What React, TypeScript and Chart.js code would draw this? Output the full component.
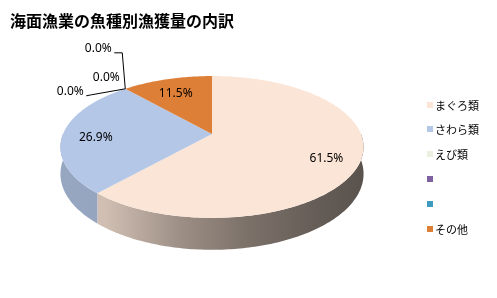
import React, { useEffect, useRef } from "react";
import { Chart, registerables } from "chart.js";

Chart.register(...registerables);

const TITLE = "海面漁業の魚種別漁獲量の内訳";
const categories = ["まぐろ類", "さわら類", "えび類", "", "", "その他"];
const values = [61.5, 26.9, 0.0, 0.0, 0.0, 11.5];
const colors = ["#fbe5d6", "#b4c7e7", "#ebf1de", "#7f60a0", "#3d9bbd", "#de7f37"];

// 3D look of the pie (relative to the outer radius computed by Chart.js)
const TILT = 0.46;
const DEPTH = 0.175;
const PERSP = 0.183;
const LABEL_R = 0.78;
const LABEL_Z = 0.15;

// leader-label layout for zero-valued slices (offsets from the slice's rim point)
const ZERO_LABELS = [
  { dx: -55, dy: 3, line: [[-34, 6], [-39, 7]] },
  { dx: -19, dy: -11, line: [] as number[][] },
  { dx: -27, dy: -40, line: [[-3, -36], [-11, -36]] },
];

function hexToRgb(h: string) {
  const n = parseInt(h.slice(1), 16);
  return [(n >> 16) & 255, (n >> 8) & 255, n & 255];
}
function shade(h: string, f: number) {
  const [r, g, b] = hexToRgb(h);
  return `rgb(${Math.round(r * f)},${Math.round(g * f)},${Math.round(b * f)})`;
}

const SIDE_STOPS: [number, number][] = [
  [0, 0.84],
  [0.15, 0.83],
  [0.4, 0.62],
  [0.6, 0.5],
  [0.85, 0.4],
  [1, 0.36],
];

const pie3d = {
  id: "pie3d",
  beforeDatasetsDraw(chart: any) {
    const meta = chart.getDatasetMeta(0);
    const arcs = meta.data;
    if (!arcs.length) return false;
    const ctx: CanvasRenderingContext2D = chart.ctx;
    const p0 = arcs[0].getProps(["x", "y", "outerRadius"], true);
    const cx = p0.x, cy = p0.y, R = p0.outerRadius;
    const K = R * TILT, D0 = R * DEPTH, P = PERSP;
    const proj = (a: number, r: number, z: number) => {
      const u = r * Math.cos(a);
      const v = -r * Math.sin(a);
      const d = 1 + P * v;
      return [cx + (u * R) / d, cy - (v * K) / d + (z * D0) / d];
    };
    const ds = chart.data.datasets[0];
    const props = arcs.map((el: any) => el.getProps(["startAngle", "endAngle"], true));

    ctx.save();
    // sides
    const gx0 = cx - R * 1.02, gx1 = cx + R * 1.02;
    props.forEach((pr: any, i: number) => {
      const a0 = Math.max(pr.startAngle, 0);
      const a1 = Math.min(pr.endAngle, Math.PI);
      if (a1 <= a0) return;
      const col = ds.backgroundColor[i];
      const g = ctx.createLinearGradient(gx0, 0, gx1, 0);
      SIDE_STOPS.forEach(([t, f]) => g.addColorStop(t, shade(col, f)));
      const N = Math.max(8, Math.ceil((a1 - a0) * 60));
      ctx.beginPath();
      for (let k = 0; k <= N; k++) {
        const a = a0 + ((a1 - a0) * k) / N;
        const [x, y] = proj(a, 1, 0);
        k === 0 ? ctx.moveTo(x, y) : ctx.lineTo(x, y);
      }
      for (let k = N; k >= 0; k--) {
        const a = a0 + ((a1 - a0) * k) / N;
        const [x, y] = proj(a, 1, 1);
        ctx.lineTo(x, y);
      }
      ctx.closePath();
      ctx.fillStyle = g;
      ctx.fill();
    });
    // top faces
    props.forEach((pr: any, i: number) => {
      const a0 = pr.startAngle, a1 = pr.endAngle;
      if (a1 - a0 <= 1e-6) return;
      const N = Math.max(8, Math.ceil((a1 - a0) * 60));
      ctx.beginPath();
      const [c0x, c0y] = proj(0, 0, 0);
      ctx.moveTo(c0x, c0y);
      for (let k = 0; k <= N; k++) {
        const a = a0 + ((a1 - a0) * k) / N;
        const [x, y] = proj(a, 1, 0);
        ctx.lineTo(x, y);
      }
      ctx.closePath();
      ctx.fillStyle = ds.backgroundColor[i];
      ctx.fill();
    });
    // labels
    ctx.font = '12px "Noto Sans", sans-serif';
    ctx.fillStyle = "#000";
    ctx.textAlign = "center";
    ctx.textBaseline = "middle";
    let zi = 0;
    props.forEach((pr: any, i: number) => {
      const v = ds.data[i];
      const txt = v.toFixed(1) + "%";
      if (pr.endAngle - pr.startAngle > 1e-6) {
        const mid = (pr.startAngle + pr.endAngle) / 2;
        const [x, y] = proj(mid, LABEL_R, LABEL_Z);
        ctx.fillText(txt, x, y);
      } else {
        const [ax, ay] = proj(pr.startAngle, 1, 0);
        const lay = ZERO_LABELS[zi % ZERO_LABELS.length];
        zi++;
        if (lay.line.length) {
          ctx.beginPath();
          ctx.moveTo(ax, ay);
          lay.line.forEach(([dx, dy]) => ctx.lineTo(ax + dx, ay + dy));
          ctx.strokeStyle = "#000";
          ctx.lineWidth = 1;
          ctx.stroke();
        }
        ctx.fillText(txt, ax + lay.dx, ay + lay.dy);
      }
    });
    ctx.restore();
    return false;
  },
};

export default function App() {
  const ref = useRef<HTMLCanvasElement | null>(null);
  useEffect(() => {
    document.body.style.margin = "0";
    const chart = new Chart(ref.current as HTMLCanvasElement, {
      type: "pie",
      data: {
        labels: categories,
        datasets: [
          {
            data: values,
            backgroundColor: colors,
            borderWidth: 0,
            radius: 149,
          } as any,
        ],
      },
      options: {
        responsive: false,
        animation: false,
        events: [],
        layout: { padding: { left: 0, right: 73, top: 0, bottom: 30 } },
        plugins: {
          legend: { display: false },
          tooltip: { enabled: false },
          title: { display: false },
        },
      },
      plugins: [pie3d as any],
    });
    return () => chart.destroy();
  }, []);

  return (
    <div style={{ position: "relative", width: 497, height: 298, background: "#fff", overflow: "hidden" }}>
      <canvas ref={ref} width={497} height={298} style={{ position: "absolute", left: 0, top: 0 }} />
      <div
        style={{
          position: "absolute",
          left: 10,
          top: 9,
          font: 'bold 16px "Noto Sans CJK JP", sans-serif',
          lineHeight: "22px",
          color: "#000",
          whiteSpace: "nowrap",
        }}
      >
        {TITLE}
      </div>
      {categories.map((c, i) => (
        <div
          key={i}
          style={{
            position: "absolute",
            left: 427,
            top: 104.5 + i * 24.9 - 8,
            height: 16,
            display: "flex",
            alignItems: "center",
            font: '11px "Noto Sans CJK JP", sans-serif',
            color: "#000",
            whiteSpace: "nowrap",
          }}
        >
          <span style={{ display: "inline-block", width: 6, height: 6, background: colors[i], marginRight: 2 }} />
          <span>{c}</span>
        </div>
      ))}
    </div>
  );
}
